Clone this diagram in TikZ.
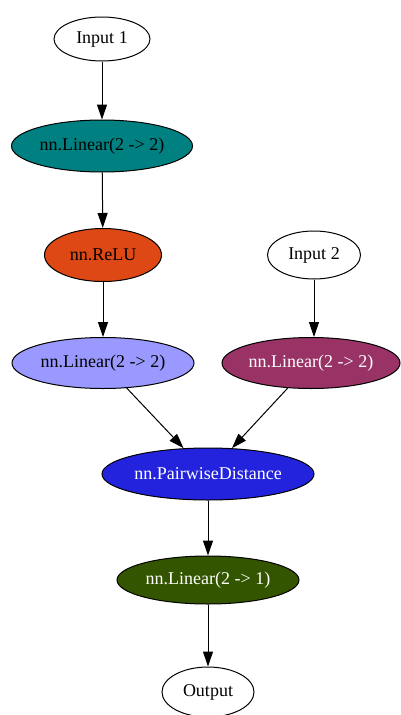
\documentclass[tikz,border=0pt]{standalone}
\usepackage{fontspec}
\setmainfont{Liberation Serif}
\usetikzlibrary{shapes.geometric,arrows.meta}
\definecolor{cTeal}{RGB}{0,128,128}
\definecolor{cRelu}{RGB}{221,72,20}
\definecolor{cLav}{RGB}{153,153,255}
\definecolor{cPlum}{RGB}{153,51,102}
\definecolor{cBlue}{RGB}{35,35,221}
\definecolor{cGreen}{RGB}{51,85,0}
\tikzset{
  op/.style={ellipse, draw=black, line width=1pt, inner sep=0pt,
             font=\fontsize{18}{20}\selectfont},
  link/.style={line width=1pt, -{Triangle[length=15pt,width=10pt]}}
}
\begin{document}
\begin{tikzpicture}[x=1pt,y=-1pt]
  \useasboundingbox (0,0) rectangle (400,715);
  % graph nodes
  \node[op, minimum width=96pt, minimum height=44pt] (in1) at (102,39) {Input 1};
  \node[op, fill=cTeal, minimum width=181pt, minimum height=52pt] (lin1) at (102,146) {nn.Linear(2 -> 2)};
  \node[op, fill=cRelu, minimum width=117pt, minimum height=53pt] (relu) at (103,255) {nn.ReLU};
  \node[op, fill=cLav, minimum width=182pt, minimum height=51pt] (lin2) at (103,363) {nn.Linear(2 -> 2)};
  \node[op, minimum width=93pt, minimum height=48pt] (in2) at (314,255) {Input 2};
  \node[op, fill=cPlum, text=white, minimum width=178pt, minimum height=51pt] (lin3) at (311,363) {nn.Linear(2 -> 2)};
  \node[op, fill=cBlue, text=white, minimum width=212pt, minimum height=52pt] (dist) at (208,474) {nn.PairwiseDistance};
  \node[op, fill=cGreen, text=white, minimum width=182pt, minimum height=48pt] (lin4) at (208,580) {nn.Linear(2 -> 1)};
  \node[op, minimum width=92pt, minimum height=50pt] (out) at (208,692) {Output};
  % connections
  \draw[link] (in1) -- (lin1);
  \draw[link] (lin1) -- (relu);
  \draw[link] (relu) -- (lin2);
  \draw[link] (in2) -- (in2 |- lin3.north);
  \draw[link] (lin2) -- (dist);
  \draw[link] (lin3) -- (dist);
  \draw[link] (dist) -- (lin4);
  \draw[link] (lin4) -- (out);
\end{tikzpicture}
\end{document}
